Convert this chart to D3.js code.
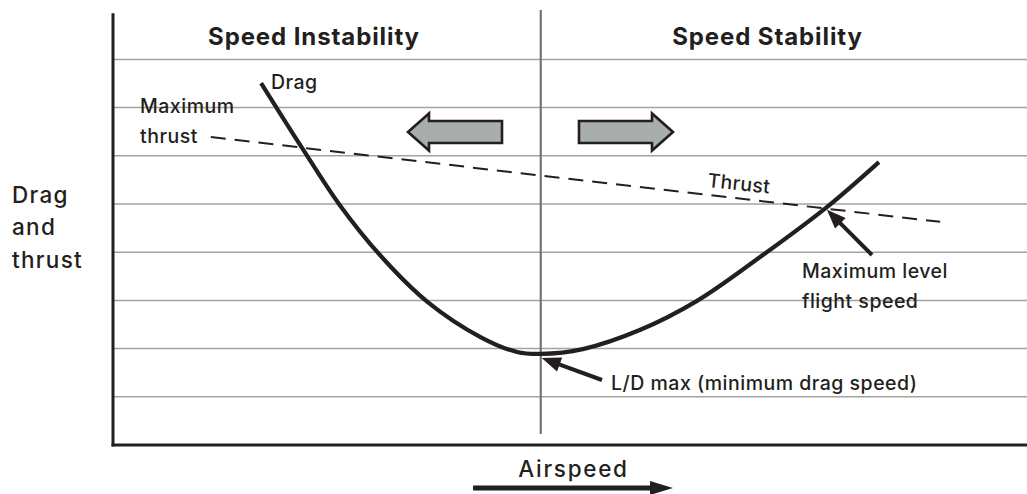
<!DOCTYPE html>
<html>
<head>
<meta charset="utf-8">
<script src="https://cdn.jsdelivr.net/npm/d3@7/dist/d3.min.js"></script>
<style>
  html, body { margin: 0; padding: 0; background: #fff; }
  svg { display: block; }
  text { font-family: Inter, "Liberation Sans", Arial, sans-serif; fill: #231f20; font-weight: 500; }
  text.heading { font-weight: 700; }
</style>
</head>
<body>
<svg id="chart" width="1027" height="494"></svg>
<script>
// Drag curve: airspeed (0-100) vs. drag (grid units)
const airspeed = [16.2, 20.7, 24.8, 29.4, 34.4, 40.2, 44.2, 46.8, 51.4, 57.7, 63.9, 70.8, 78.0, 83.8];
const drag     = [7.51, 6.16, 4.98, 3.90, 2.97, 2.24, 1.93, 1.89, 1.99, 2.39, 2.99, 3.90, 4.92, 5.87];

// Available (maximum) thrust
const thrustSpeed = [10.7, 46.8, 90.5];
const thrust      = [6.39, 5.59, 4.63];

// Horizontal reference lines
const gridLevels = [1, 2, 3, 4, 5, 6, 7, 8];

// Key speeds
const ldMaxSpeed = 46.8, ldMaxDrag = 1.89;
const maxLevelSpeed = 78.0, maxLevelDrag = 4.92;

const regionLabels = ["Speed Instability", "Speed Stability"];
const yLabelLines = ["Drag", "and", "thrust"];

const svg = d3.select("#chart");
const ink = "#231f20";

const x = d3.scaleLinear().domain([0, 100]).range([113, 1027]);
const y = d3.scaleLinear().domain([0, 9]).range([445, 11.2]);

// grid lines
svg.append("g")
  .selectAll("line")
  .data(gridLevels)
  .join("line")
  .attr("x1", x(0)).attr("x2", x(100))
  .attr("y1", d => y(d)).attr("y2", d => y(d))
  .attr("stroke", "#a3a3a3").attr("stroke-width", 1.5);

// divider at L/D max
svg.append("line")
  .attr("x1", x(ldMaxSpeed)).attr("x2", x(ldMaxSpeed))
  .attr("y1", 10).attr("y2", 434)
  .attr("stroke", "#747474").attr("stroke-width", 2.2);

// axes
svg.append("line")
  .attr("x1", x(0)).attr("x2", x(0)).attr("y1", y(9) + 2).attr("y2", y(0) + 1.5)
  .attr("stroke", ink).attr("stroke-width", 3);
svg.append("line")
  .attr("x1", x(0) - 1.5).attr("x2", x(100)).attr("y1", y(0)).attr("y2", y(0))
  .attr("stroke", ink).attr("stroke-width", 3);

// region headings
const headings = [
  { text: regionLabels[0], cx: 314 },
  { text: regionLabels[1], cx: 767.5 }
];
svg.append("g").selectAll("text")
  .data(headings)
  .join("text")
  .attr("class", "heading")
  .attr("x", d => d.cx).attr("y", 45)
  .attr("text-anchor", "middle")
  .attr("font-size", 24)
  .attr("letter-spacing", 0.9)
  .text(d => d.text);

// block arrows showing speed tendency
function blockArrow(dir, tipX) {
  const cy = 132, bodyH = 11, headH = 18.5, headL = 21, bodyL = 73;
  const s = dir;
  const baseX = tipX - s * headL;
  const tailX = baseX - s * bodyL;
  const pts = [
    [tipX, cy], [baseX, cy - headH], [baseX, cy - bodyH], [tailX, cy - bodyH],
    [tailX, cy + bodyH], [baseX, cy + bodyH], [baseX, cy + headH]
  ];
  svg.append("path")
    .attr("d", d3.line()(pts) + "Z")
    .attr("fill", "#a8aeac").attr("stroke", ink).attr("stroke-width", 2.6)
    .attr("stroke-linejoin", "miter");
}
blockArrow(-1, 408);
blockArrow(1, 673);

// thrust line
const line = d3.line().x(d => x(d[0])).y(d => y(d[1]));
svg.append("path")
  .attr("d", line(thrustSpeed.map((s, i) => [s, thrust[i]])))
  .attr("fill", "none").attr("stroke", ink).attr("stroke-width", 2)
  .attr("stroke-dasharray", "15 9");

// drag curve
svg.append("path")
  .attr("d", line.curve(d3.curveCatmullRom.alpha(0.5))(airspeed.map((s, i) => [s, drag[i]])))
  .attr("fill", "none").attr("stroke", ink).attr("stroke-width", 4.2);

// pointer arrows
function pointer(tail, tip) {
  const dx = tip[0] - tail[0], dy = tip[1] - tail[1];
  const len = Math.hypot(dx, dy), ux = dx / len, uy = dy / len;
  const headLen = 19, headW = 7.5;
  const bx = tip[0] - ux * headLen, by = tip[1] - uy * headLen;
  svg.append("line")
    .attr("x1", tail[0]).attr("y1", tail[1]).attr("x2", bx + ux * 2).attr("y2", by + uy * 2)
    .attr("stroke", ink).attr("stroke-width", 4);
  svg.append("path")
    .attr("d", d3.line()([[tip[0], tip[1]], [bx - uy * headW, by + ux * headW], [bx + uy * headW, by - ux * headW]]) + "Z")
    .attr("fill", ink);
}
pointer([602, 380], [x(ldMaxSpeed) + 1, y(ldMaxDrag) + 4]);
pointer([872, 255], [x(maxLevelSpeed) + 1, y(maxLevelDrag) + 2]);

// labels
const labels = [
  { t: "Drag", x: 271, y: 89 },
  { t: "Maximum", x: 140, y: 113 },
  { t: "thrust", x: 140, y: 143 },
  { t: "Maximum level", x: 802, y: 278 },
  { t: "flight speed", x: 802, y: 308 },
  { t: "L/D max (minimum drag speed)", x: 611, y: 390 }
];
svg.append("g").selectAll("text")
  .data(labels)
  .join("text")
  .attr("x", d => d.x).attr("y", d => d.y)
  .attr("font-size", 19.5).attr("letter-spacing", 0.5)
  .text(d => d.t);

svg.append("text")
  .attr("transform", "translate(707,187) rotate(6)")
  .attr("font-size", 19.5).attr("letter-spacing", 0.3)
  .text("Thrust");

// y-axis title
svg.append("g").selectAll("text")
  .data(yLabelLines)
  .join("text")
  .attr("x", 12).attr("y", (d, i) => [203, 235, 268][i])
  .attr("font-size", 22.5).attr("letter-spacing", 1.3)
  .text(d => d);

// x-axis title with direction arrow
svg.append("text")
  .attr("x", 573.5).attr("y", 477)
  .attr("text-anchor", "middle")
  .attr("font-size", 22.5).attr("letter-spacing", 1.7)
  .text("Airspeed");
svg.append("line")
  .attr("x1", 473).attr("x2", 652).attr("y1", 488).attr("y2", 488)
  .attr("stroke", ink).attr("stroke-width", 5);
svg.append("path")
  .attr("d", d3.line()([[673, 488], [650, 481], [650, 495]]) + "Z")
  .attr("fill", ink);
</script>
</body>
</html>
